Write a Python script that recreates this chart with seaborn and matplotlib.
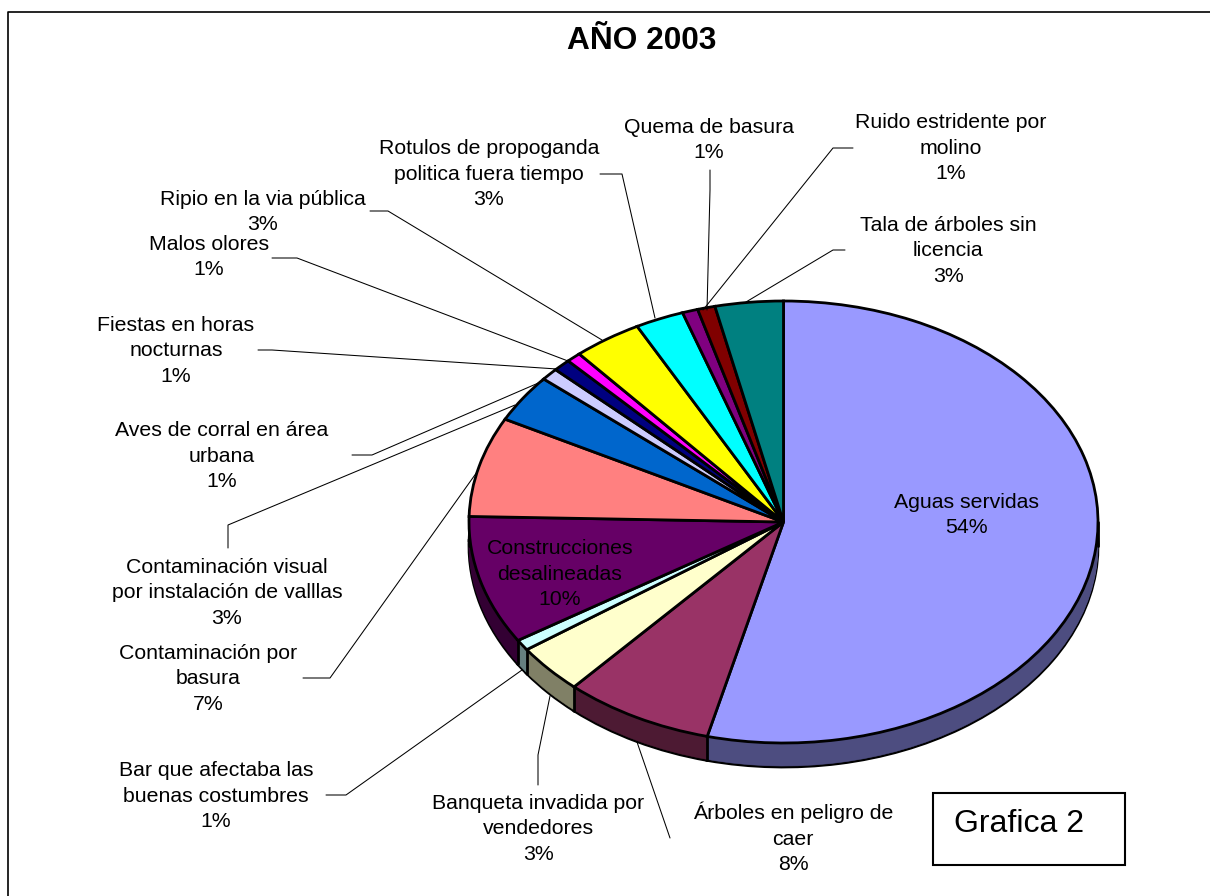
import numpy as np
import matplotlib
matplotlib.use("Agg")
import matplotlib.pyplot as plt
from matplotlib.patches import Rectangle
import seaborn as sns

categories = ["Aguas servidas", "Árboles en peligro de\ncaer", "Banqueta invadida por\nvendedores",
              "Bar que afectaba las\nbuenas costumbres", "Construcciones\ndesalineadas",
              "Contaminación por\nbasura", "Contaminación visual\npor instalación de valllas",
              "Aves de corral en área\nurbana", "Fiestas en horas\nnocturnas", "Malos olores",
              "Ripio en la via pública", "Rotulos de propoganda\npolitica fuera tiempo",
              "Quema de basura", "Ruido estridente por\nmolino", "Tala de árboles sin\nlicencia"]
values = [53.9, 7.7, 3.6, 0.8, 9.4, 7.3, 3.5, 0.9, 0.9, 0.75, 3.55, 2.5, 0.8, 0.9, 3.5]
shown_percent = [54, 8, 3, 1, 10, 7, 3, 1, 1, 1, 3, 3, 1, 1, 3]
slice_colors = ["#9999FF", "#993366", "#FFFFCC", "#CCFFFF", "#660066", "#FF8080", "#0066CC", "#CCCCFF",
                "#000080", "#FF00FF", "#FFFF00", "#00FFFF", "#800080", "#800000", "#008080"]
title_text = "AÑO 2003"
note_text = "Grafica 2"

sns.set_theme(style="white")
plt.rcParams["font.family"] = ["Liberation Sans", "DejaVu Sans"]

W, H = 1210, 896
CX, CY, RX, RY, DEPTH = 783.5, 522.0, 314.5, 221.0, 24.0
palette = sns.color_palette(slice_colors)
dark = [tuple(c * 0.5 for c in col) for col in palette]

fig = plt.figure(figsize=(W / 100, H / 100), dpi=100, facecolor="white")
ax = fig.add_axes([0, 0, 1, 1])

pie_kw = dict(startangle=90, counterclock=False)
d = DEPTH / RY
ax.pie(values, colors=dark, center=(0, -d), radius=1,
       wedgeprops=dict(edgecolor="black", linewidth=2.0), **pie_kw)
for off in np.arange(DEPTH - 1, 0, -1) / RY:
    wedges, _ = ax.pie(values, colors=dark, center=(0, -off), radius=1, **pie_kw)
    for w in wedges:
        w.set_edgecolor(w.get_facecolor())
        w.set_linewidth(0.4)
# front wall separators, at the slice borders on the lower half
edges = np.cumsum(values) / np.sum(values) * 2 * np.pi
for a in list(edges) + [np.pi / 2, 3 * np.pi / 2]:
    if np.cos(a) <= 1e-9:
        ax.plot([np.sin(a)] * 2, [np.cos(a), np.cos(a) - d], color="black", lw=2.0, zorder=3)
wedges, _ = ax.pie(values, colors=palette, center=(0, 0), radius=1,
                   wedgeprops=dict(edgecolor="black", linewidth=2.0), **pie_kw)
for w in wedges:
    w.set_zorder(4)
ax.set_aspect("auto")
ax.set_xlim(-CX / RX, (W - CX) / RX)
ax.set_ylim((CY - H) / RY, CY / RY)
ax.axis("off")

# overlay in pixel units for frame, leaders and labels
ov = fig.add_axes([0, 0, 1, 1], facecolor="none")
ov.set_xlim(0, W)
ov.set_ylim(H, 0)
ov.axis("off")

ov.plot([8, 8, W], [H, 12, 12], color="black", lw=1.2, clip_on=False)

label_pos = [(966, 515), (793, 838), (538, 829), (216, 796), (560, 574), (208, 679), (227, 593),
             (222, 456), (176, 351), (209, 257), (263, 212), (489, 174), (709, 140), (951, 148), (948, 251)]
leaders = {
    1: [(637, 742), (670, 838)],
    2: [(550, 696), (538, 755), (538, 785)],
    3: [(522, 670), (346, 795), (326, 795)],
    5: [(477, 472), (330, 678), (303, 678)],
    6: [(515, 405), (228, 525), (228, 548)],
    7: [(543, 381), (372, 455), (352, 455)],
    8: [(557, 369), (272, 350), (258, 350)],
    9: [(568, 361), (297, 258), (272, 258)],
    10: [(602, 340), (388, 211), (370, 211)],
    11: [(655, 318), (622, 174), (600, 174)],
    12: [(707, 310), (710, 190), (710, 170)],
    13: [(703, 310), (833, 148), (853, 148)],
    14: [(746, 302), (833, 250), (845, 250)],
}
for pts in leaders.values():
    xs, ys = zip(*pts)
    ov.plot(xs, ys, color="black", lw=0.75)

for name, pct, (x, y) in zip(categories, shown_percent, label_pos):
    ov.text(x, y, f"{name}\n{pct}%", ha="center", va="center", fontsize=15.3,
            linespacing=1.42, color="black", zorder=6)

ov.text(642, 41, title_text, ha="center", va="center", fontsize=22.8, fontweight="bold", color="black")
ov.add_patch(Rectangle((933, 793), 192, 72, facecolor="white", edgecolor="black", lw=1.5))
ov.text(1019, 824, note_text, ha="center", va="center", fontsize=23, color="black")

fig.savefig("out.png", dpi=100)
